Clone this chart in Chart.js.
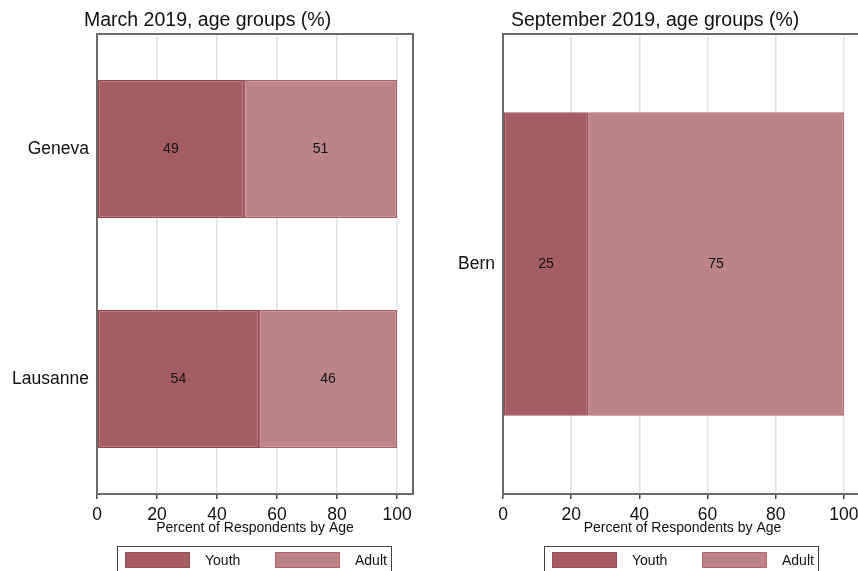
<!DOCTYPE html>
<html>
<head>
<meta charset="utf-8">
<script src="https://cdn.jsdelivr.net/npm/chart.js@4.4.1/dist/chart.umd.min.js"></script>
<style>
  body { margin: 0; width: 858px; height: 571px; overflow: hidden; background: #fff; font-family: "Liberation Sans", Arial, sans-serif; position: relative; }
  .panel { position: absolute; top: 0; height: 571px; }
  .title { position: absolute; top: 8px; font-size: 19.5px; color: #111; white-space: nowrap; }
  .legend { position: absolute; top: 546px; width: 275px; height: 40px; border: 1px solid #444; box-sizing: border-box; }
  .sw { position: absolute; top: 5px; width: 65px; height: 16px; box-sizing: border-box; border: 1.5px solid; }
  .lt { position: absolute; top: 5px; font-size: 14px; color: #111; line-height: 16px; }
</style>
</head>
<body>
<div class="panel" style="left:0;width:430px;"><canvas id="myChart1"></canvas></div>
<div class="panel" style="left:430px;width:440px;"><canvas id="myChart2"></canvas></div>

<div class="title" style="left:84px;">March 2019, age groups (%)</div>
<div class="title" style="left:511px;">September 2019, age groups (%)</div>

<div class="legend" style="left:117px;">
  <div class="sw" style="left:7px;background:#a45e62;border-color:#9a4a52;"></div>
  <div class="lt" style="left:87px;">Youth</div>
  <div class="sw" style="left:157px;background:#bb8587;border-color:#b0646b;"></div>
  <div class="lt" style="left:237px;">Adult</div>
</div>
<div class="legend" style="left:544px;">
  <div class="sw" style="left:7px;background:#a45e62;border-color:#9a4a52;"></div>
  <div class="lt" style="left:87px;">Youth</div>
  <div class="sw" style="left:157px;background:#bb8587;border-color:#b0646b;"></div>
  <div class="lt" style="left:237px;">Adult</div>
</div>

<script>
// data
const marchCities = ['Geneva', 'Lausanne'];
const marchYouth = [49, 54];
const marchAdult = [51, 46];

const septCities = ['Bern'];
const septYouth = [25];
const septAdult = [75];

const xTicks = [0, 20, 40, 60, 80, 100];
const seriesNames = ['Youth', 'Adult'];
const axisTitle = 'Percent of Respondents by Age';

// labels in bar centres + frame + x axis title
const panelPlugin = {
    id: 'panelPlugin',
    afterDatasetsDraw(chart) {
        const ctx = chart.ctx;
        ctx.save();
        ctx.fillStyle = '#111';
        ctx.font = '14px "Liberation Sans", Arial, sans-serif';
        ctx.textAlign = 'center';
        ctx.textBaseline = 'middle';
        chart.data.datasets.forEach((ds, i) => {
            chart.getDatasetMeta(i).data.forEach((bar, j) => {
                const x = (bar.x + bar.base) / 2;
                ctx.fillText(ds.data[j], x, bar.y);
            });
        });
        ctx.restore();
    },
    afterDraw(chart) {
        const a = chart.chartArea;
        const ctx = chart.ctx;
        ctx.save();
        ctx.strokeStyle = '#6a6a6a';
        ctx.lineWidth = 2;
        ctx.strokeRect(a.left, a.top, a.right - a.left, a.bottom - a.top);
        ctx.fillStyle = '#111';
        ctx.font = '14px "Liberation Sans", Arial, sans-serif';
        ctx.textAlign = 'center';
        ctx.textBaseline = 'middle';
        ctx.fillText(axisTitle, (a.left + a.right) / 2, 528);
        ctx.restore();
    }
};

function makeChart(id, w, labels, youth, adult, yWidth, padRight, barPct) {
    const canvas = document.getElementById(id);
    canvas.width = w;
    canvas.height = 571;
    const ctx = canvas.getContext('2d');
    return new Chart(ctx, {
        type: 'bar',
        data: {
            labels: labels,
            datasets: [{
                label: seriesNames[0],
                data: youth,
                backgroundColor: '#a45e62',
                borderColor: '#98464e',
                borderWidth: 1.5,
                borderSkipped: false,
                barPercentage: barPct,
                categoryPercentage: 1
            }, {
                label: seriesNames[1],
                data: adult,
                backgroundColor: '#bb8587',
                borderColor: '#ad5f67',
                borderWidth: 1.5,
                borderSkipped: false,
                barPercentage: barPct,
                categoryPercentage: 1
            }]
        },
        options: {
            indexAxis: 'y',
            responsive: false,
            animation: false,
            layout: { padding: { left: 0, right: padRight, top: 34, bottom: 0 } },
            scales: {
                x: {
                    stacked: true,
                    min: 0,
                    max: 105.3,
                    afterBuildTicks: (scale) => { scale.ticks = xTicks.map(v => ({ value: v })); },
                    afterFit: (scale) => { scale.height = 571 - 34 - 460; },
                    grid: { color: '#e2e2e2', lineWidth: 1.5, tickColor: '#444', tickLength: 5, drawTicks: true },
                    border: { display: true, color: '#444', width: 2 },
                    ticks: {
                        color: '#111',
                        padding: 6,
                        maxRotation: 0,
                        font: { size: 17.5, family: '"Liberation Sans", Arial, sans-serif' }
                    }
                },
                y: {
                    stacked: true,
                    afterFit: (scale) => { scale.width = yWidth; },
                    grid: { display: false, drawTicks: false },
                    border: { display: false },
                    ticks: {
                        color: '#111',
                        padding: 8,
                        font: { size: 17.5, family: '"Liberation Sans", Arial, sans-serif' }
                    }
                }
            },
            plugins: {
                legend: { display: false },
                tooltip: { enabled: false }
            }
        },
        plugins: [panelPlugin]
    });
}

makeChart('myChart1', 430, marchCities, marchYouth, marchAdult, 97, 17, 0.6);
makeChart('myChart2', 440, septCities, septYouth, septAdult, 73, 8, 0.66);
</script>
</body>
</html>
